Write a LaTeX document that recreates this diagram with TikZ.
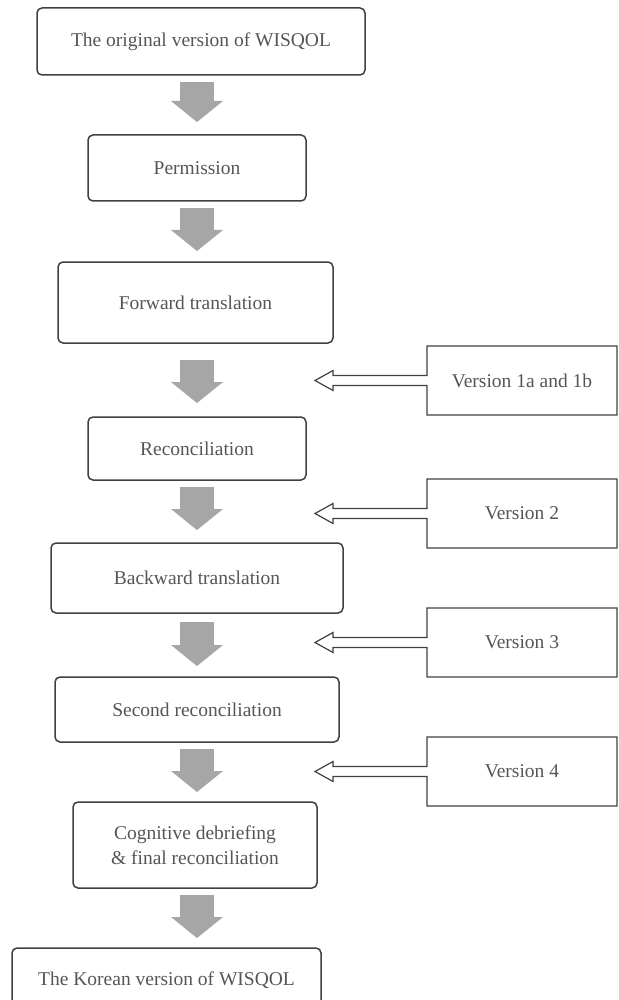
\documentclass[tikz,border=0pt]{standalone}
\usepackage{fontspec}
\setmainfont{Liberation Serif}
\usetikzlibrary{arrows.meta,calc}

\definecolor{boxline}{RGB}{64,64,64}
\definecolor{txtgray}{RGB}{85,85,85}
\definecolor{arrowgray}{RGB}{166,166,166}

\tikzset{every picture/.style={line width=0.75pt}}
\tikzset{
  stepbox/.style={draw=boxline, line width=1.5pt, rounded corners=5pt, inner sep=0pt, outer sep=0pt,
    text=txtgray, align=center, font=\fontsize{19.5}{25}\selectfont},
  verbox/.style={inner sep=0pt, outer sep=0pt, minimum width=190pt, minimum height=69pt,
    text=txtgray, font=\fontsize{19.5}{25}\selectfont},
  verline/.style={draw=boxline, line width=1.2pt},
  blockarrow/.style={arrowgray, line width=34pt, -{Triangle[length=21pt,width=52pt,line width=0pt]}}
}

\begin{document}
\begin{tikzpicture}[x=1pt,y=1pt,yscale=-1,xscale=1]
\clip (0,0) rectangle (618,1000);

%Rounded Rect
\node [stepbox, minimum width=328pt, minimum height=67pt] (orig) at (201,41.5) {The original version of WISQOL};
%Rounded Rect
\node [stepbox, minimum width=218pt, minimum height=66pt] (perm) at (197,168) {Permission};
%Rounded Rect
\node [stepbox, minimum width=275pt, minimum height=81pt] (fwd) at (195.5,302.5) {Forward translation};
%Rounded Rect
\node [stepbox, minimum width=218pt, minimum height=63pt] (recon) at (197,448.5) {Reconciliation};
%Rounded Rect
\node [stepbox, minimum width=292pt, minimum height=70pt] (back) at (197,578) {Backward translation};
%Rounded Rect
\node [stepbox, minimum width=284pt, minimum height=65pt] (second) at (197,709.5) {Second reconciliation};
%Rounded Rect
\node [stepbox, minimum width=244pt, minimum height=86pt] (cogn) at (195,845) {Cognitive debriefing\\\& final reconciliation};
%Rounded Rect
\node [stepbox, minimum width=309pt, minimum height=64pt] (korean) at (166.5,980) {The Korean version of WISQOL};

%Down Arrows
\coordinate (col) at (197,0);
\draw [blockarrow] ($(col |- orig.south)+(0,7)$) -- ($(col |- perm.north)+(0,-13)$);
\draw [blockarrow] ($(col |- perm.south)+(0,7)$) -- ($(col |- fwd.north)+(0,-11)$);
\draw [blockarrow] ($(col |- fwd.south)+(0,17)$) -- ($(col |- recon.north)+(0,-14)$);
\draw [blockarrow] ($(col |- recon.south)+(0,7)$) -- ($(col |- back.north)+(0,-13)$);
\draw [blockarrow] ($(col |- back.south)+(0,9)$) -- ($(col |- second.north)+(0,-11)$);
\draw [blockarrow] ($(col |- second.south)+(0,7)$) -- ($(col |- cogn.north)+(0,-10)$);
\draw [blockarrow] ($(col |- cogn.south)+(0,7)$) -- ($(col |- korean.north)+(0,-10)$);

% Text Node
\node [verbox] (v1) at (522,380.5) {Version 1a and 1b};
% Text Node
\node [verbox] (v2) at (522,513.5) {Version 2};
% Text Node
\node [verbox] (v3) at (522,642.5) {Version 3};
% Text Node
\node [verbox] (v4) at (522,771.5) {Version 4};

\coordinate (t1) at (315,380.5);
\coordinate (t2) at (315,513.5);
\coordinate (t3) at (315,642.5);
\coordinate (t4) at (315,771.5);

%Shape: Open Box with Left Arrow
\draw [verline] (v1.north east) -- (v1.north west) -- ($(v1.west)+(0,-5)$) -- ($(t1)+(18,-5)$) -- ($(t1)+(18,-10)$) -- (t1) -- ($(t1)+(18,10)$) -- ($(t1)+(18,5)$) -- ($(v1.west)+(0,5)$) -- (v1.south west) -- (v1.south east) -- cycle;
%Shape: Open Box with Left Arrow
\draw [verline] (v2.north east) -- (v2.north west) -- ($(v2.west)+(0,-5)$) -- ($(t2)+(18,-5)$) -- ($(t2)+(18,-10)$) -- (t2) -- ($(t2)+(18,10)$) -- ($(t2)+(18,5)$) -- ($(v2.west)+(0,5)$) -- (v2.south west) -- (v2.south east) -- cycle;
%Shape: Open Box with Left Arrow
\draw [verline] (v3.north east) -- (v3.north west) -- ($(v3.west)+(0,-5)$) -- ($(t3)+(18,-5)$) -- ($(t3)+(18,-10)$) -- (t3) -- ($(t3)+(18,10)$) -- ($(t3)+(18,5)$) -- ($(v3.west)+(0,5)$) -- (v3.south west) -- (v3.south east) -- cycle;
%Shape: Open Box with Left Arrow
\draw [verline] (v4.north east) -- (v4.north west) -- ($(v4.west)+(0,-5)$) -- ($(t4)+(18,-5)$) -- ($(t4)+(18,-10)$) -- (t4) -- ($(t4)+(18,10)$) -- ($(t4)+(18,5)$) -- ($(v4.west)+(0,5)$) -- (v4.south west) -- (v4.south east) -- cycle;

\end{tikzpicture}
\end{document}
